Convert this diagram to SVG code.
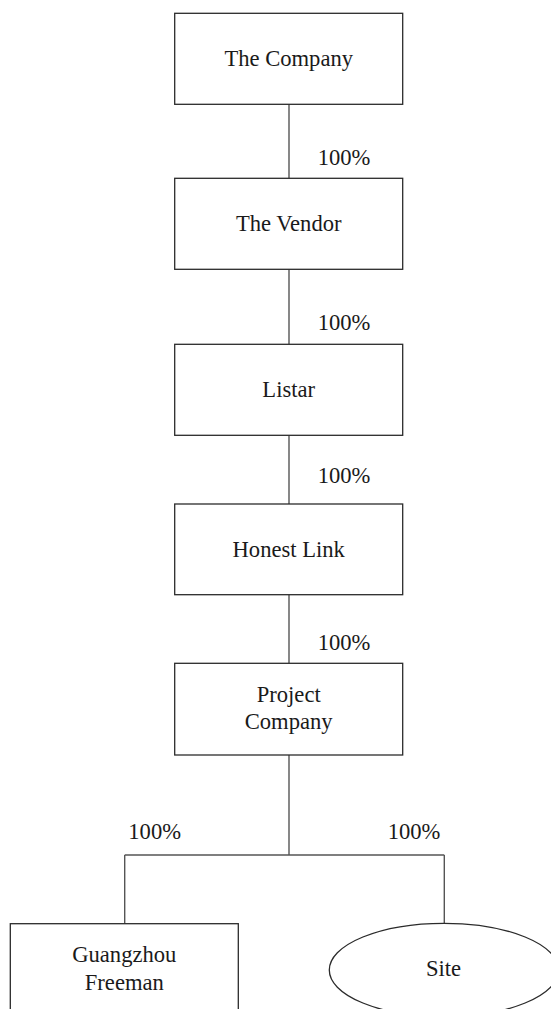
<svg xmlns="http://www.w3.org/2000/svg" width="551" height="1009" viewBox="0 0 551 1009">
<style>
.box{fill:#fff;stroke:#2b2b2b;stroke-width:1.3}
.t{font-family:"Liberation Serif","Times New Roman",serif;font-size:22.6px;fill:#1a1a1a}
.c{text-anchor:middle}
.conn line{stroke:#555;stroke-width:1.4}
</style>
<rect width="551" height="1009" fill="#fff"/>
<g class="conn" id="connectors">
<line x1="289" y1="104.3" x2="289" y2="178.3"/>
<line x1="289" y1="269.3" x2="289" y2="344.3"/>
<line x1="289" y1="435.3" x2="289" y2="504"/>
<line x1="289" y1="594.7" x2="289" y2="663.3"/>
<line x1="289" y1="755" x2="289" y2="855"/>
<line x1="124.7" y1="855" x2="444.3" y2="855"/>
<line x1="124.7" y1="855" x2="124.7" y2="923.7"/>
<line x1="444.3" y1="855" x2="444.3" y2="923.3"/>
</g>
<g id="labels">
<text class="t" x="317.7" y="165">100%</text>
<text class="t" x="317.7" y="330">100%</text>
<text class="t" x="317.7" y="483.3">100%</text>
<text class="t" x="317.7" y="650">100%</text>
<text class="t" x="128.3" y="839.3">100%</text>
<text class="t" x="387.7" y="839.3">100%</text>
</g>
<g id="company">
<rect class="box" x="174.7" y="13.3" width="228" height="91"/>
<text class="t c" x="288.7" y="65.7">The Company</text>
</g>
<g id="vendor">
<rect class="box" x="174.7" y="178.3" width="228" height="91"/>
<text class="t c" x="288.7" y="231">The Vendor</text>
</g>
<g id="listar">
<rect class="box" x="174.7" y="344.3" width="228" height="91"/>
<text class="t c" x="288.7" y="396.7">Listar</text>
</g>
<g id="honest-link">
<rect class="box" x="174.7" y="504" width="228" height="90.7"/>
<text class="t c" x="288.7" y="556.7">Honest Link</text>
</g>
<g id="project-company">
<rect class="box" x="174.7" y="663.3" width="228" height="91.7"/>
<text class="t c" x="288.7" y="701.7">Project</text>
<text class="t c" x="288.7" y="729">Company</text>
</g>
<g id="guangzhou-freeman">
<rect class="box" x="10.3" y="923.7" width="228" height="100"/>
<text class="t c" x="124.3" y="961.7">Guangzhou</text>
<text class="t c" x="124.3" y="990">Freeman</text>
</g>
<g id="site">
<ellipse class="box" cx="444" cy="970" rx="114.7" ry="46.7"/>
<text class="t c" x="443.5" y="976">Site</text>
</g>
</svg>
